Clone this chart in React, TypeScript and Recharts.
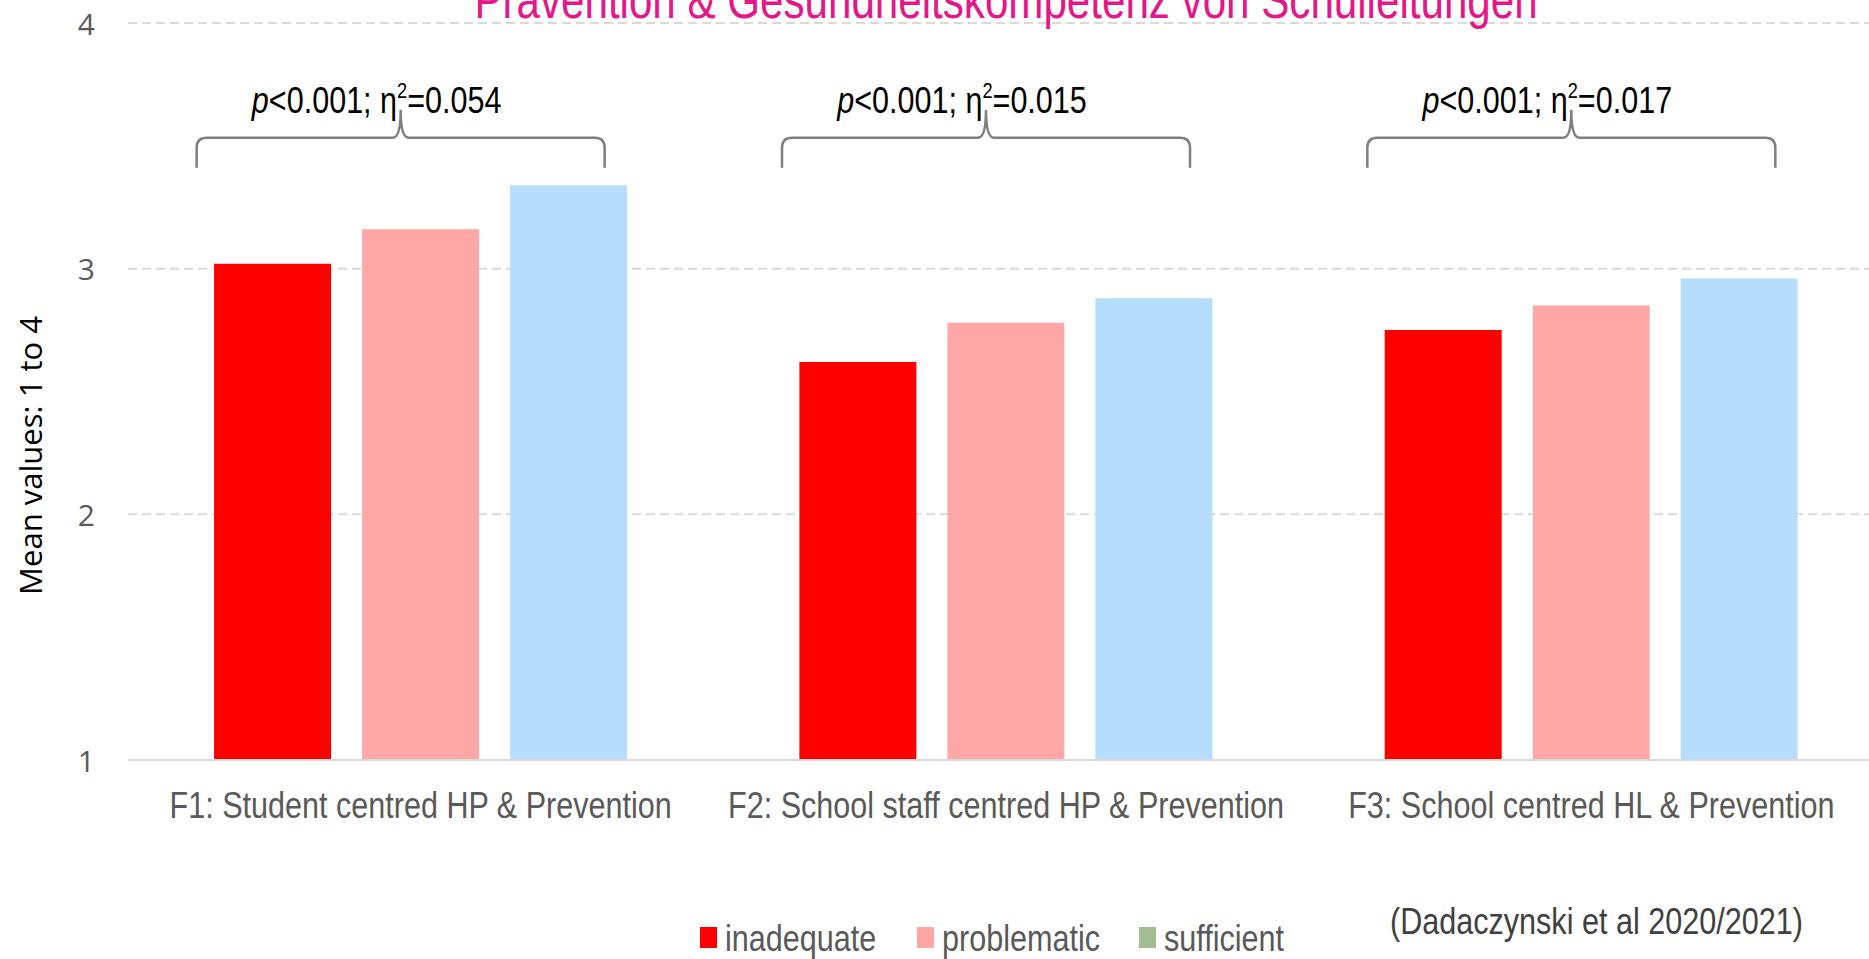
import * as React from "react"
import {
  BarChart,
  Bar,
  XAxis,
  YAxis,
  CartesianGrid,
  Legend,
  ReferenceDot,
} from "recharts"

// ─── Data ────────────────────────────────────────────────────────────────────
const factors = [
  "F1: Student centred HP & Prevention",
  "F2: School staff centred HP & Prevention",
  "F3: School centred HL & Prevention",
]
const inadequate = [3.02, 2.62, 2.75]
const problematic = [3.16, 2.78, 2.85]
const sufficient = [3.34, 2.88, 2.96]
const pValues = ["0.001", "0.001", "0.001"]
const etaSquared = ["0.054", "0.015", "0.017"]
const yTicks = [1, 2, 3, 4]
const seriesNames = ["inadequate", "problematic", "sufficient"]

// ─── Colors ──────────────────────────────────────────────────────────────────
const BAR_COLORS = ["#ff0000", "#ffa6a6", "#b7ddfe"]
const LEGEND_COLORS = ["#ff0000", "#ffa6a6", "#a2bd93"] // legend swatch differs from bar
const TEXT_GRAY = "#595959"
const GRID_GRAY = "#d9d9d9"
const BRACE_GRAY = "#7f7f7f"
const TITLE_PINK = "#e5168a"

// no narrow font installed, so squeeze Liberation Sans horizontally
const SANS = '"Liberation Sans", Arial, sans-serif'
const SQUEEZE = 0.826
const ROUND = '"Open Sans", "Noto Sans", sans-serif'

const BRACE_LEVEL = 3.533 // value where the brace bar sits

const data = factors.map((name, i) => ({
  name,
  inadequate: inadequate[i],
  problematic: problematic[i],
  sufficient: sufficient[i],
  p: pValues[i],
  eta: etaSquared[i],
}))

function NarrowText({
  x,
  y,
  children,
  ...rest
}: { x: number; y: number; children: React.ReactNode } & React.SVGProps<SVGTextElement>) {
  return (
    <text
      x={0}
      y={0}
      transform={`translate(${x},${y}) scale(${SQUEEZE},1)`}
      fontFamily={SANS}
      {...rest}
    >
      {children}
    </text>
  )
}

// ─── Brace + stats annotation ────────────────────────────────────────────────
function Brace({ cx, cy, p, eta }: { cx?: number; cy?: number; p: string; eta: string }) {
  if (cx == null || cy == null) return null
  const mid = cx - 20
  const half = 204
  const L = mid - half
  const R = mid + half
  const d = [
    `M${L},${cy + 30}`,
    `L${L},${cy + 10}`,
    `Q${L},${cy} ${L + 10},${cy}`,
    `L${mid - 8},${cy}`,
    `Q${mid},${cy} ${mid},${cy - 28}`,
    `Q${mid},${cy} ${mid + 8},${cy}`,
    `L${R - 10},${cy}`,
    `Q${R},${cy} ${R},${cy + 10}`,
    `L${R},${cy + 30}`,
  ].join(" ")
  return (
    <g>
      <path d={d} fill="none" stroke={BRACE_GRAY} strokeWidth={2.5} />
      <NarrowText x={cx - 44} y={cy - 25} textAnchor="middle" fontSize={37} fill="#000">
        <tspan fontStyle="italic">p</tspan>
        <tspan>{`<${p}; η`}</tspan>
        <tspan dy={-15} fontSize={22}>2</tspan>
        <tspan dy={15}>{`=${eta}`}</tspan>
      </NarrowText>
    </g>
  )
}

// ─── Axis ticks / labels ─────────────────────────────────────────────────────
function CategoryTick({ x, y, payload }: any) {
  return (
    <NarrowText x={x} y={y + 58} textAnchor="middle" fontSize={37} fill={TEXT_GRAY}>
      {payload.value}
    </NarrowText>
  )
}

function ValueTick({ x, y, payload }: any) {
  return (
    <text
      x={x}
      y={y}
      textAnchor="end"
      dominantBaseline="central"
      fontFamily={ROUND}
      fontSize={30}
      fill={TEXT_GRAY}
    >
      {payload.value}
    </text>
  )
}

function YTitle({ viewBox }: any) {
  const cx = 30
  const cy = viewBox.y + viewBox.height / 2 + 64
  return (
    <text
      x={cx}
      y={cy}
      transform={`rotate(-90, ${cx}, ${cy})`}
      textAnchor="middle"
      dominantBaseline="central"
      fontFamily={ROUND}
      fontSize={31}
      fill="#000"
    >
      Mean values: 1 to 4
    </text>
  )
}

// ─── Legend (+ source note) ──────────────────────────────────────────────────
const squeezed: React.CSSProperties = {
  position: "absolute",
  fontSize: 37,
  lineHeight: "42px",
  whiteSpace: "nowrap",
  transform: `scaleX(${SQUEEZE})`,
  transformOrigin: "left center",
}

function LegendContent() {
  const swatchLeft = [700, 917, 1139]
  return (
    <div style={{ position: "relative", width: 1884, height: 60, fontFamily: SANS }}>
      {seriesNames.map((name, i) => (
        <div key={name}>
          <div
            style={{
              position: "absolute",
              left: swatchLeft[i],
              top: 28,
              width: 17,
              height: 21,
              background: LEGEND_COLORS[i],
            }}
          />
          <div style={{ ...squeezed, left: swatchLeft[i] + 25, top: 19, color: TEXT_GRAY }}>
            {name}
          </div>
        </div>
      ))}
      <div style={{ ...squeezed, left: 1390, top: 2, color: "#404040" }}>
        (Dadaczynski et al 2020/2021)
      </div>
    </div>
  )
}

// ─── Component ───────────────────────────────────────────────────────────────
export default function App() {
  return (
    <div
      style={{
        position: "absolute",
        left: 0,
        top: 0,
        width: 1869,
        height: 959,
        overflow: "hidden",
        background: "#fff",
      }}
    >
      <BarChart
        width={1884}
        height={959}
        data={data}
        margin={{ top: 23, right: 0, left: 0, bottom: 0 }}
        barCategoryGap="14.7%"
        barGap={31}
      >
        <CartesianGrid
          vertical={false}
          stroke={GRID_GRAY}
          strokeWidth={2}
          strokeDasharray="9 5"
        />
        <XAxis
          dataKey="name"
          height={139}
          axisLine={{ stroke: GRID_GRAY, strokeWidth: 2 }}
          tickLine={false}
          tickSize={0}
          tickMargin={0}
          tick={<CategoryTick />}
          interval={0}
        />
        <YAxis
          type="number"
          domain={[1, 4]}
          ticks={yTicks}
          width={128}
          axisLine={false}
          tickLine={false}
          tickSize={0}
          tickMargin={33}
          tick={<ValueTick />}
          label={<YTitle />}
        />
        <Legend
          verticalAlign="bottom"
          content={<LegendContent />}
          wrapperStyle={{ left: 0, bottom: 0, width: 1884, height: 60 }}
        />
        {seriesNames.map((key, i) => (
          <Bar key={key} dataKey={key} fill={BAR_COLORS[i]} isAnimationActive={false} />
        ))}
        {data.map((d) => (
          <ReferenceDot
            key={d.name}
            x={d.name}
            y={BRACE_LEVEL}
            ifOverflow="visible"
            shape={(props: any) => <Brace cx={props.cx} cy={props.cy} p={d.p} eta={d.eta} />}
          />
        ))}
      </BarChart>
      <div
        style={{
          position: "absolute",
          left: 0,
          width: 2012,
          top: -25,
          textAlign: "center",
          fontFamily: SANS,
          fontSize: 51,
          lineHeight: "51px",
          color: TITLE_PINK,
          whiteSpace: "nowrap",
          transform: `scaleX(${SQUEEZE})`,
          transformOrigin: "center",
        }}
      >
        Prävention &amp; Gesundheitskompetenz von Schulleitungen
      </div>
    </div>
  )
}
